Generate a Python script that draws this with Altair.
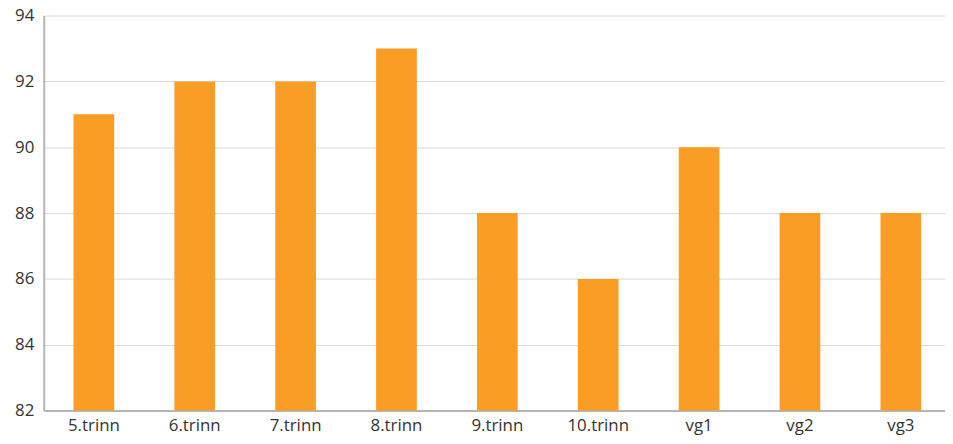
import altair as alt
import pandas as pd

categories = ["5.trinn", "6.trinn", "7.trinn", "8.trinn", "9.trinn", "10.trinn", "vg1", "vg2", "vg3"]
values = [91, 92, 92, 93, 88, 86, 90, 88, 88]

df = pd.DataFrame({"trinn": categories, "verdi": values})

chart = alt.Chart(df).mark_bar(color="#F99D25", clip=True).encode(
    x=alt.X("trinn:N", sort=categories, title=None,
            scale=alt.Scale(paddingInner=0.5966, paddingOuter=0.2657, align=0.5556),
            axis=alt.Axis(labelAngle=0, ticks=False, domainColor="#b5b5b5", domainWidth=2,
                          labelFontSize=17, labelColor="#333333", labelPadding=7,
                          labelFont="Open Sans")),
    y=alt.Y("verdi:Q", title=None,
            scale=alt.Scale(domain=[82, 94], nice=False, zero=False),
            axis=alt.Axis(values=[82, 84, 86, 88, 90, 92, 94], ticks=False,
                          domainColor="#b5b5b5", domainWidth=2, gridColor="#d9d9d9",
                          labelFontSize=17, labelColor="#333333", labelPadding=10,
                          labelFont="Open Sans")),
).properties(
    width=908, height=398,
    autosize=alt.AutoSizeParams(type="none"),
    padding={"left": 36, "top": 6, "right": 0, "bottom": 24},
).configure_view(stroke=None)

chart.save("out.html", embed_options={"renderer": "svg", "actions": False})
